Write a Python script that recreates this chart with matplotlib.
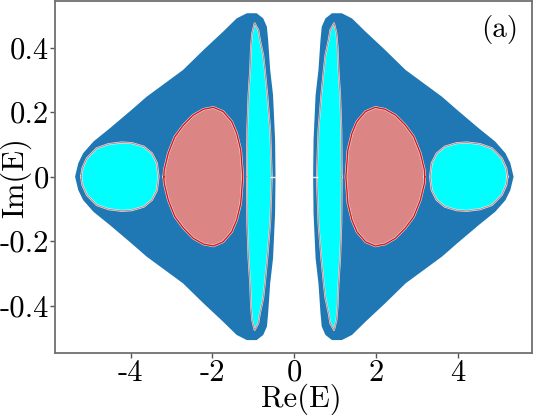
import numpy as np
import matplotlib
matplotlib.use('Agg')
from matplotlib import pyplot as plt

plt.rcParams['font.family'] = 'serif'
plt.rcParams['font.serif'] = ['cmr10']
plt.rcParams['mathtext.fontset'] = 'cm'
plt.rcParams['axes.unicode_minus'] = False

# boundaries, upper half only (y >= 0), left side (x < 0)
# outer blue lobe: from the nose over the top down to the inner edge
lobe_x = [-5.36, -5.28, -5.16, -4.91, -4.51, -3.98, -3.61, -2.72, -2.22, -1.74,
          -1.41, -1.16, -0.92, -0.76, -0.67, -0.64, -0.59, -0.52, -0.47, -0.46]
lobe_y = [0.0, 0.042, 0.073, 0.109, 0.150, 0.207, 0.248, 0.331, 0.393, 0.450,
          0.491, 0.507, 0.507, 0.491, 0.465, 0.424, 0.331, 0.253, 0.114, 0.0]

# outer cyan loop
loop_x = [-5.21, -5.18, -5.07, -4.83, -4.54, -4.22, -3.97, -3.68, -3.48, -3.36, -3.32]
loop_y = [0.0, 0.026, 0.057, 0.088, 0.101, 0.106, 0.104, 0.093, 0.072, 0.042, 0.0]

# pink loop
pink_x = [-3.19, -3.18, -3.08, -2.92, -2.71, -2.47, -2.22, -1.98, -1.74, -1.53,
          -1.41, -1.31, -1.26]
pink_y = [0.0, 0.021, 0.073, 0.124, 0.160, 0.191, 0.209, 0.215, 0.202, 0.171,
          0.135, 0.083, 0.0]

# thin cyan lens near Re(E) = -1
lens_x = [-1.16, -1.15, -1.12, -1.08, -1.06, -1.03, -0.97, -0.88, -0.84, -0.76,
          -0.72, -0.66, -0.59, -0.55]
lens_y = [0.0, 0.145, 0.253, 0.331, 0.40, 0.445, 0.476, 0.455, 0.424, 0.377,
          0.331, 0.253, 0.145, 0.0]

# small white gaps on the real axis
gap_x = [-0.51, 0.51]
gap_y = [0.0, 0.0]

xticks = [-4, -2, 0, 2, 4]
xticklabels = ['-4', '-2', '0', '2', '4']
yticks = [-0.4, -0.2, 0, 0.2, 0.4]
yticklabels = ['-0.4', '-0.2', '0', '0.2', '0.4']

BLUE = '#1f77b4'
CYAN = '#00ffff'
PINK = '#db8585'


def closed(xs, ys, side):
    # mirror the upper half to get the full loop, side=-1 flips to Re(E)>0
    xs = np.array(xs) * side
    ys = np.array(ys)
    x = np.concatenate([xs, xs[-2:0:-1]])
    y = np.concatenate([ys, -ys[-2:0:-1]])
    return np.append(x, x[0]), np.append(y, y[0])


fig = plt.figure(figsize=(5.33, 4.15), dpi=100)
ax = fig.add_axes([55 / 533, 1 - 353.3 / 415, 477 / 533, 352.3 / 415])

for side in (1, -1):
    x, y = closed(lobe_x, lobe_y, side)
    ax.fill(x, y, color=BLUE, lw=0, zorder=1)

    x, y = closed(loop_x, loop_y, side)
    ax.fill(x, y, color=CYAN, lw=0, zorder=2)
    ax.plot(x, y, color='#dfe9ef', lw=1.5, zorder=2)
    ax.plot(x, y, color='#c47a7a', lw=0.6, zorder=3)

    x, y = closed(pink_x, pink_y, side)
    ax.fill(x, y, color=PINK, lw=0, zorder=2)
    ax.plot(x, y, color='#dfe9ef', lw=1.8, zorder=2)
    ax.plot(x, y, color='#e01515', lw=1.0, zorder=3)

    x, y = closed(lens_x, lens_y, side)
    ax.fill(x, y, color=CYAN, lw=0, zorder=2)
    ax.plot(x, y, color='#dfe9ef', lw=1.3, zorder=2)
    ax.plot(x, y, color='#c47a7a', lw=0.6, zorder=3)

ax.plot(gap_x, gap_y, ls='none', marker='_', ms=4, mew=1.0, color='#e8f0f8', zorder=4)

ax.set_xlim(-5.85, 5.81)
ax.set_ylim(-0.548, 0.545)
ax.set_xticks(xticks)
ax.set_xticklabels(xticklabels)
ax.set_yticks(yticks)
ax.set_yticklabels(yticklabels)
ax.tick_params(labelsize=22, length=3.5, width=1, color='#555555', pad=1,
               top=False, right=False, direction='out')

for sp in ax.spines.values():
    sp.set_color('#707070')
    sp.set_linewidth(1.3)

ax.set_xlabel('Re(E)', fontsize=22)
ax.set_ylabel('Im(E)', fontsize=22)
ax.xaxis.set_label_coords(0.516, -0.085)
ax.yaxis.set_label_coords(-0.05, 0.5)
ax.text(0.971, 0.96, '(a)', transform=ax.transAxes, ha='right', va='top', fontsize=21)

fig.savefig('out.png', dpi=100)
